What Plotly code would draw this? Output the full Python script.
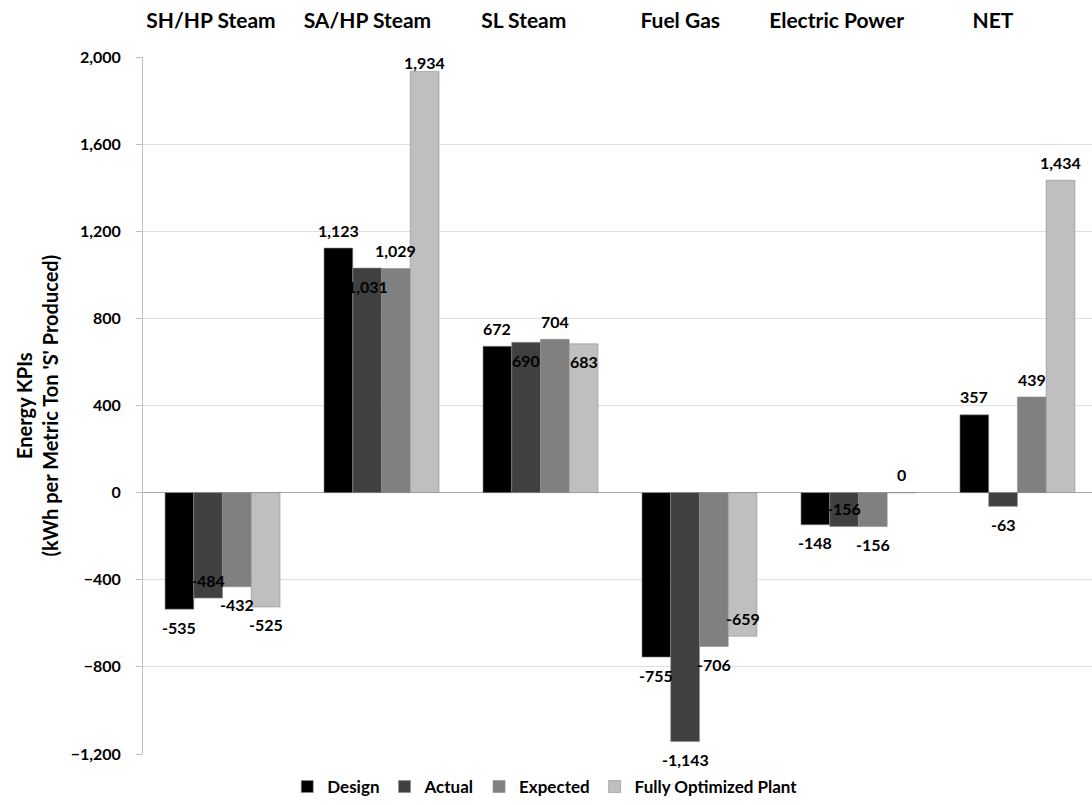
import plotly.graph_objects as go

# Energy balance categories and the four scenarios
categories = ["SH/HP Steam", "SA/HP Steam", "SL Steam", "Fuel Gas", "Electric Power", "NET"]
series_names = ["Design", "Actual", "Expected", "Fully Optimized Plant"]

design = [-535, 1123, 672, -755, -148, 357]
actual = [-484, 1031, 690, -1143, -156, -63]
expected = [-432, 1029, 704, -706, -156, 439]
fully_optimized = [-525, 1934, 683, -659, 0, 1434]

y_ticks = [-1200, -800, -400, 0, 400, 800, 1200, 1600, 2000]

# label placement: "out" = beyond the bar end, "in" = just inside the bar end
label_side = [
    ["out", "out", "out", "out", "out", "out"],
    ["in", "in", "in", "out", "in", "out"],
    ["out", "out", "out", "out", "out", "out"],
    ["out", "near", "in", "in", "out", "out"],
]
colors = ["#000000", "#404040", "#808080", "#bfbfbf"]

FONT = "Lato"
BAR_GAP = 0.277
n_series = 4
bar_w = (1 - BAR_GAP) / n_series
x_pos = list(range(len(categories)))

fig = go.Figure()
all_series = [design, actual, expected, fully_optimized]
for k, (name, vals, col) in enumerate(zip(series_names, all_series, colors)):
    fig.add_trace(go.Bar(
        x=x_pos, y=vals, name=name,
        marker=dict(color=col, line=dict(color="#8c8c8c", width=0.6)),
        hoverinfo="x+y",
    ))

annotations = []
for k, vals in enumerate(all_series):
    off = (k - (n_series - 1) / 2) * bar_w
    for i, v in enumerate(vals):
        side = label_side[k][i]
        sign = 1 if v >= 0 else -1
        if side == "out":
            shift = 18 * sign
        elif side == "near":
            shift = 9 * sign
        else:
            shift = -18 * sign
        annotations.append(dict(
            x=i + off, y=v, xref="x", yref="y", text=f"{v:,}",
            showarrow=False, yshift=shift,
            font=dict(family=FONT, size=16, color="#000000", weight="bold"),
        ))

# y-axis title
annotations.append(dict(
    x=-0.1117, y=0.5, xref="paper", yref="paper", textangle=-90,
    text="Energy KPIs<br>(kWh per Metric Ton 'S' Produced)",
    showarrow=False, xanchor="center", yanchor="middle",
    font=dict(family=FONT, size=20, color="#000000", weight="bold"),
))

# invisible trace carrying the top category axis
fig.add_trace(go.Scatter(
    x=x_pos, y=[0] * len(x_pos), xaxis="x2", mode="markers",
    marker=dict(opacity=0), showlegend=False, hoverinfo="skip",
))

fig.update_layout(
    width=1092, height=805,
    margin=dict(l=143, r=0, t=57, b=50),
    paper_bgcolor="white", plot_bgcolor="white",
    barmode="group", bargap=BAR_GAP, bargroupgap=0,
    font=dict(family=FONT, color="#000000"),
    xaxis=dict(range=[-0.5, 5.469], showticklabels=False, showgrid=False,
               zeroline=False, showline=False, fixedrange=True),
    xaxis2=dict(overlaying="x", side="top", range=[-0.4348, 5.633],
                tickvals=x_pos, ticktext=categories, showgrid=False,
                zeroline=False, showline=False, ticks="", ticklabelstandoff=24,
                tickfont=dict(family=FONT, size=21, color="#000000", weight="bold")),
    yaxis=dict(range=[-1200, 2000], tickvals=y_ticks, tickformat=",",
               showgrid=True, gridcolor="#e0e0e0", gridwidth=1,
               zeroline=True, zerolinecolor="#a6a6a6", zerolinewidth=1.2,
               showline=True, linecolor="#bfbfbf", linewidth=1,
               ticks="outside", ticklen=6, tickcolor="#bfbfbf",
               ticklabelstandoff=12,
               tickfont=dict(family=FONT, size=16, color="#000000", weight="bold")),
    legend=dict(orientation="h", x=0.152, xanchor="left", y=-0.048, yanchor="middle",
                font=dict(family=FONT, size=17, color="#000000", weight="bold"),
                traceorder="normal", itemwidth=30),
    annotations=annotations,
)

fig.write_html("out.html")
